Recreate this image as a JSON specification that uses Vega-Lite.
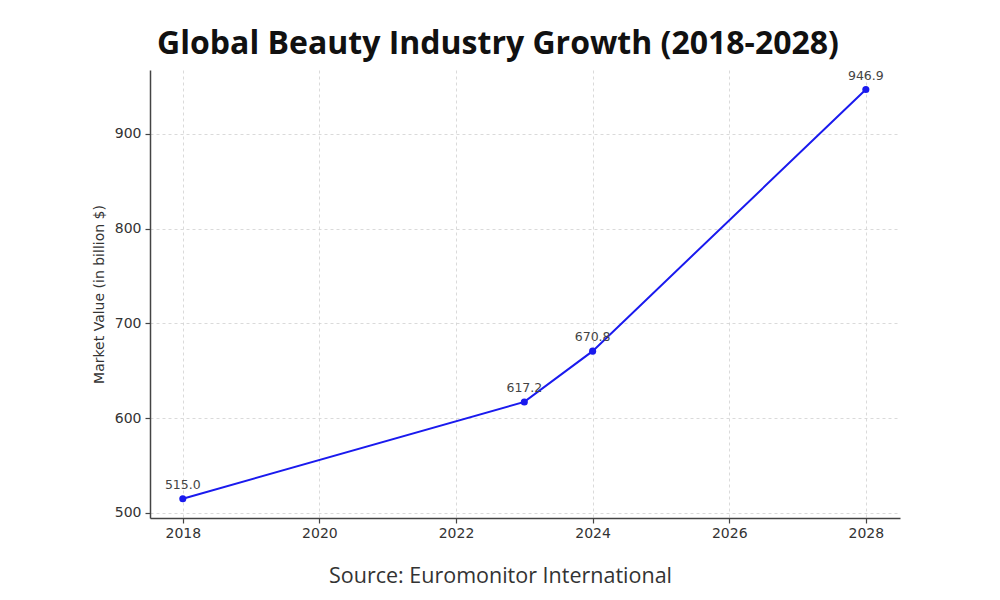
{
  "$schema": "https://vega.github.io/schema/vega-lite/v6.json",
  "autosize": "none",
  "width": 750,
  "height": 448,
  "padding": {"left": 150, "top": 70, "right": 100, "bottom": 82},
  "background": "white",
  "title": {
    "text": "Global Beauty Industry Growth (2018-2028)",
    "font": "Open Sans",
    "fontWeight": "bold",
    "fontSize": 32,
    "color": "#111111",
    "anchor": "middle",
    "frame": "group",
    "dx": -27,
    "offset": 9
  },
  "data": {
    "values": [
      {"year": 2018, "value": 515.0},
      {"year": 2023, "value": 617.2},
      {"year": 2024, "value": 670.8},
      {"year": 2028, "value": 946.9}
    ]
  },
  "config": {
    "view": {"stroke": null},
    "axis": {
      "domainColor": "#444444",
      "domainWidth": 1.5,
      "tickColor": "#444444",
      "tickWidth": 1.2,
      "tickSize": 5,
      "labelFont": "DejaVu Sans",
      "labelFontSize": 14,
      "labelColor": "#333333",
      "gridColor": "#d0d0d0",
      "gridDash": [3, 3],
      "gridWidth": 0.8
    }
  },
  "encoding": {
    "x": {
      "field": "year",
      "type": "quantitative",
      "scale": {"domain": [2017.52, 2028.5], "nice": false, "zero": false},
      "axis": {
        "values": [2018, 2020, 2022, 2024, 2026, 2028],
        "format": "d",
        "labelPadding": 3,
        "title": "Source: Euromonitor International",
        "titleFont": "Open Sans",
        "titleFontWeight": "normal",
        "titleFontSize": 21.5,
        "titleColor": "#333333",
        "titleX": 350,
        "titlePadding": 25
      }
    },
    "y": {
      "field": "value",
      "type": "quantitative",
      "scale": {"domain": [494.7, 967.5], "nice": false, "zero": false},
      "axis": {
        "values": [500, 600, 700, 800, 900],
        "labelPadding": 4,
        "title": "Market Value (in billion $)",
        "titleFont": "DejaVu Sans",
        "titleFontWeight": "normal",
        "titleFontSize": 14,
        "titleColor": "#333333",
        "titlePadding": 8
      }
    }
  },
  "layer": [
    {
      "mark": {"type": "line", "color": "#1a1aee", "strokeWidth": 2}
    },
    {
      "mark": {"type": "point", "filled": true, "color": "#1a1aee", "size": 50, "opacity": 1}
    },
    {
      "mark": {"type": "text", "dy": -14, "font": "DejaVu Sans", "fontSize": 12.5, "color": "#444444"},
      "encoding": {"text": {"field": "value", "type": "quantitative", "format": ".1f"}}
    }
  ]
}
